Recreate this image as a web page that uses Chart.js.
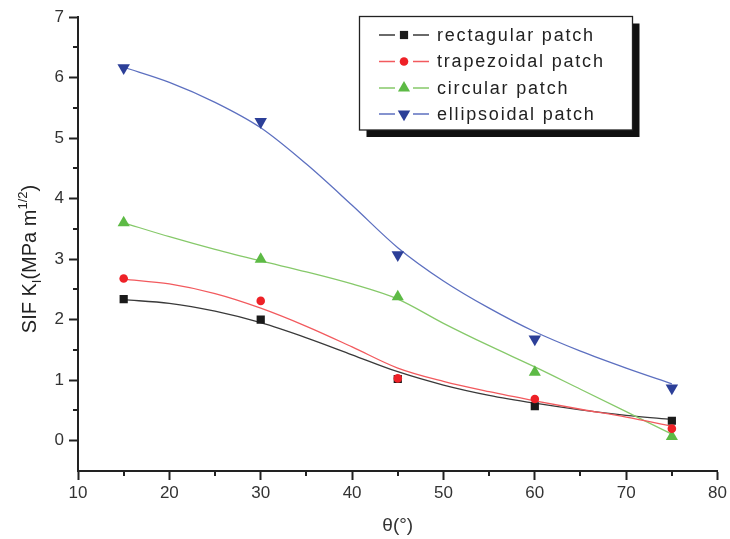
<!DOCTYPE html>
<html><head><meta charset="utf-8">
<script src="https://cdn.jsdelivr.net/npm/chart.js@4/dist/chart.umd.min.js"></script>
<style>html,body{margin:0;padding:0;background:#fff}canvas{display:block}</style>
</head><body>
<canvas id="c" width="730" height="539"></canvas>
<script>
// measured points
const thetaDeg = [15, 30, 45, 60, 75];
const rectangular = [2.34, 2.00, 1.02, 0.57, 0.33];
const trapezoidal = [2.68, 2.31, 1.03, 0.69, 0.20];
const circular = [3.60, 3.00, 2.38, 1.13, 0.07];
const ellipsoidal = [6.16, 5.27, 3.07, 1.68, 0.87];

// fitted curves
const fitTheta = [15, 20, 25, 30, 35, 40, 45, 50, 55, 60, 65, 70, 75];
const rectangularFit = [2.33, 2.27, 2.14, 1.95, 1.70, 1.42, 1.14, 0.92, 0.75, 0.62, 0.51, 0.42, 0.35];
const trapezoidalFit = [2.67, 2.59, 2.43, 2.19, 1.89, 1.55, 1.20, 0.98, 0.81, 0.66, 0.52, 0.39, 0.24];
const circularFit = [3.60, 3.37, 3.16, 2.97, 2.79, 2.59, 2.34, 1.94, 1.57, 1.22, 0.85, 0.48, 0.11];
const ellipsoidalFit = [6.17, 5.92, 5.59, 5.17, 4.57, 3.89, 3.19, 2.64, 2.19, 1.80, 1.48, 1.20, 0.94];

const seriesLabels = ['rectagular patch', 'trapezoidal patch', 'circular patch', 'ellipsoidal patch'];
const xTicks = [10, 20, 30, 40, 50, 60, 70, 80];
const xMinorTicks = [15, 25, 35, 45, 55, 65, 75];
const yTicks = [0, 1, 2, 3, 4, 5, 6, 7];
const yMinorTicks = [0.5, 1.5, 2.5, 3.5, 4.5, 5.5, 6.5];
const xTitle = 'θ(°)';

const styles = [
  {marker: '#1a1a1a', line: '#3a3a3a', pointStyle: 'rect', radius: 5.8, rotation: 0},
  {marker: '#ee2127', line: '#f25a5e', pointStyle: 'circle', radius: 4.3, rotation: 0},
  {marker: '#5dba45', line: '#86c96a', pointStyle: 'triangle', radius: 7, rotation: 0},
  {marker: '#2c3f98', line: '#5d70c0', pointStyle: 'triangle', radius: 7.2, rotation: 180}
];
const markerSeries = [rectangular, trapezoidal, circular, ellipsoidal];
const fitSeries = [rectangularFit, trapezoidalFit, circularFit, ellipsoidalFit];

function toXY(xs, ys) { return xs.map((x, i) => ({x: x, y: ys[i]})); }

const markerOrder = [1, 2, 0, 3]; // drawing priority (first = on top)
const datasets = [];
markerOrder.forEach(i => {
  const s = styles[i];
  datasets.push({
    label: seriesLabels[i], data: toXY(thetaDeg, markerSeries[i]), showLine: false,
    pointStyle: s.pointStyle, pointRadius: s.radius, pointRotation: s.rotation,
    pointBackgroundColor: s.marker, pointBorderColor: s.marker, pointBorderWidth: 0,
    pointHoverRadius: s.radius
  });
});
markerOrder.forEach(i => {
  const s = styles[i];
  datasets.push({
    label: seriesLabels[i] + ' fit', data: toXY(fitTheta, fitSeries[i]), showLine: true,
    borderColor: s.line, borderWidth: 1.3, pointRadius: 0, pointHoverRadius: 0,
    cubicInterpolationMode: 'monotone', fill: false
  });
});

const decor = {
  id: 'decor',
  afterDraw(chart) {
    const ctx = chart.ctx;
    const xs = chart.scales.x, ys = chart.scales.y, ca = chart.chartArea;
    ctx.save();
    // minor ticks
    ctx.strokeStyle = '#222'; ctx.lineWidth = 2;
    xMinorTicks.forEach(v => {
      const p = Math.round(xs.getPixelForValue(v));
      ctx.beginPath(); ctx.moveTo(p, ca.bottom); ctx.lineTo(p, ca.bottom + 5); ctx.stroke();
    });
    yMinorTicks.forEach(v => {
      const p = Math.round(ys.getPixelForValue(v));
      ctx.beginPath(); ctx.moveTo(ca.left, p); ctx.lineTo(ca.left - 5, p); ctx.stroke();
    });
    // y axis title with subscript / superscript
    const parts = [
      {t: 'SIF K', f: 20, dy: 0},
      {t: 'I', f: 13, dy: 5},
      {t: '(MPa m', f: 20, dy: 0},
      {t: '1/2', f: 13, dy: -9},
      {t: ')', f: 20, dy: 0}
    ];
    ctx.fillStyle = '#222';
    ctx.textBaseline = 'alphabetic';
    ctx.textAlign = 'left';
    let total = 0;
    parts.forEach(p => { ctx.font = p.f + 'px "Liberation Sans", Arial, sans-serif'; p.w = ctx.measureText(p.t).width; total += p.w; });
    ctx.translate(36, 259);
    ctx.rotate(-Math.PI / 2);
    let x = -total / 2;
    parts.forEach(p => { ctx.font = p.f + 'px "Liberation Sans", Arial, sans-serif'; ctx.fillText(p.t, x, p.dy); x += p.w; });
    ctx.setTransform(1, 0, 0, 1, 0, 0);

    // legend box with shadow
    const bx = 359.5, by = 16.5, bw = 273, bh = 113.5;
    ctx.fillStyle = '#111';
    ctx.fillRect(bx + 7, by + 7, bw, bh);
    ctx.fillStyle = '#fff';
    ctx.fillRect(bx, by, bw, bh);
    ctx.strokeStyle = '#222'; ctx.lineWidth = 1.3;
    ctx.strokeRect(bx, by, bw, bh);
    const rowY = [35, 61.5, 88, 114];
    ctx.font = '18px "Liberation Sans", Arial, sans-serif';
    ctx.textBaseline = 'middle';
    ctx.textAlign = 'left';
    try { ctx.letterSpacing = '1.8px'; } catch (e) {}
    for (let i = 0; i < 4; i++) {
      const s = styles[i], y = rowY[i];
      ctx.strokeStyle = s.line; ctx.lineWidth = 1.3;
      ctx.beginPath(); ctx.moveTo(379, y); ctx.lineTo(395, y); ctx.moveTo(413, y); ctx.lineTo(429, y); ctx.stroke();
      ctx.fillStyle = s.marker; ctx.strokeStyle = s.marker;
      Chart.helpers.drawPoint(ctx, {pointStyle: s.pointStyle, radius: s.radius, rotation: s.rotation, borderWidth: 0}, 404, y);
      ctx.fillStyle = '#222';
      ctx.fillText(seriesLabels[i], 437, y + 1);
    }
    ctx.restore();
  }
};

new Chart(document.getElementById('c'), {
  type: 'scatter',
  data: {datasets: datasets},
  options: {
    responsive: false, animation: false,
    layout: {padding: {left: 0, right: 12, top: 17, bottom: 0}},
    plugins: {legend: {display: false}, tooltip: {enabled: false}},
    scales: {
      x: {
        type: 'linear', min: 10, max: 80,
        afterBuildTicks: s => { s.ticks = xTicks.map(v => ({value: v})); },
        afterFit: s => { s.height = 68; },
        grid: {drawOnChartArea: false, drawTicks: true, tickLength: 9, tickWidth: 2, tickColor: '#222'},
        border: {display: true, color: '#222', width: 2},
        ticks: {color: '#333', font: {family: '"Liberation Sans", Arial, sans-serif', size: 17}, padding: 3, maxRotation: 0},
        title: {display: true, text: xTitle, color: '#333', font: {family: '"Liberation Sans", Arial, sans-serif', size: 19}, padding: {top: 0, bottom: 2}}
      },
      y: {
        type: 'linear', min: -0.5, max: 7,
        afterBuildTicks: s => { s.ticks = yTicks.map(v => ({value: v})); },
        afterFit: s => { s.width = 78; },
        grid: {drawOnChartArea: false, drawTicks: true, tickLength: 9, tickWidth: 2, tickColor: '#222'},
        border: {display: true, color: '#222', width: 2},
        ticks: {color: '#333', font: {family: '"Liberation Sans", Arial, sans-serif', size: 17}, padding: 5}
      }
    }
  },
  plugins: [decor]
});
</script>
</body></html>
